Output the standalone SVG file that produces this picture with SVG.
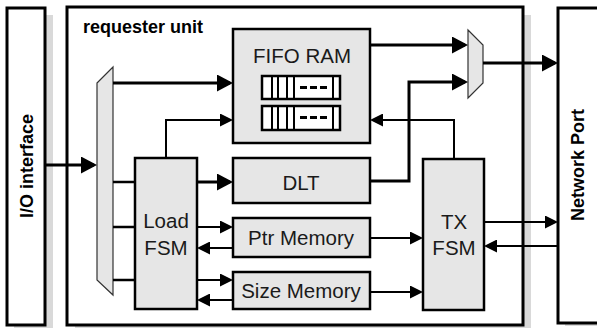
<svg xmlns="http://www.w3.org/2000/svg" width="597" height="329" viewBox="0 0 597 329">
<style>
.shadow{fill:#d9d9d9;stroke:none}
.outer{fill:#fff;stroke:#000;stroke-width:3}
.blk{fill:#e6e6e6;stroke:#000;stroke-width:2.5}
.mux{fill:#e6e6e6;stroke:#333;stroke-width:1.2}
.cell{fill:#fff;stroke:#000;stroke-width:2.5}
.tick{stroke:#000;stroke-width:2;fill:none}
.dash{stroke:#000;stroke-width:3;fill:none;stroke-dasharray:7 3}
.lbl{font-family:"Liberation Sans",Arial,sans-serif;font-size:20.5px;fill:#1a1a1a;text-anchor:middle}
.blbl{font-family:"Liberation Sans",Arial,sans-serif;font-size:18px;font-weight:bold;fill:#000}
.thick{fill:none;stroke:#000;stroke-width:3;marker-end:url(#ab)}
.thin{fill:none;stroke:#000;stroke-width:2;marker-end:url(#as)}
.plain{fill:none;stroke:#000;stroke-width:2.5}
</style>
<defs>
<marker id="ab" markerUnits="userSpaceOnUse" markerWidth="16" markerHeight="17" refX="13" refY="8.5" orient="auto"><path d="M0,0 L16,8.5 L0,17 z" fill="#000"/></marker>
<marker id="as" markerUnits="userSpaceOnUse" markerWidth="13" markerHeight="13" refX="11" refY="6.5" orient="auto"><path d="M0,0 L13,6.5 L0,13 z" fill="#000"/></marker>
</defs>

<g id="io-interface">
<rect class="shadow" x="14" y="15" width="39" height="313"/>
<rect class="outer" x="7" y="8" width="38" height="317"/>
<text class="blbl" text-anchor="middle" transform="translate(33,166) rotate(-90)">I/O interface</text>
</g>

<g id="requester-unit">
<rect class="shadow" x="75" y="15" width="456" height="313"/>
<rect class="outer" x="67" y="7" width="456" height="318"/>
<text class="blbl" x="83" y="33">requester unit</text>
</g>

<g id="network-port">
<rect class="shadow" x="565" y="15" width="40" height="311"/>
<rect class="outer" x="558" y="8" width="45" height="315"/>
<text class="blbl" text-anchor="middle" transform="translate(584,165) rotate(-90)">Network Port</text>
</g>

<g id="mux-in">
<polygon class="mux" points="97,83 113,67 113,295 97,280"/>
</g>

<g id="mux-out">
<polygon class="mux" points="468,30 483,45 483,83 468,98"/>
</g>

<g id="fifo-ram">
<rect class="blk" x="233" y="29" width="137" height="114"/>
<text class="lbl" x="302" y="63">FIFO RAM</text>
<rect class="cell" x="262" y="76" width="78" height="23"/>
<path class="tick" d="M272,76V99M278,76V99M287,76V99M294,76V99M333,76V99"/>
<path class="dash" d="M300,87.5H327"/>
<rect class="cell" x="262" y="106" width="78" height="24"/>
<path class="tick" d="M272,106V130M278,106V130M287,106V130M294,106V130M333,106V130"/>
<path class="dash" d="M300,117.5H327"/>
</g>

<g id="dlt">
<rect class="blk" x="233" y="158" width="137" height="45"/>
<text class="lbl" x="301" y="190">DLT</text>
</g>

<g id="ptr-memory">
<rect class="blk" x="233" y="218" width="137" height="39"/>
<text class="lbl" x="301" y="245">Ptr Memory</text>
</g>

<g id="size-memory">
<rect class="blk" x="233" y="272" width="137" height="37"/>
<text class="lbl" x="301" y="298">Size Memory</text>
</g>

<g id="load-fsm">
<rect class="blk" x="135" y="158" width="62" height="151"/>
<text class="lbl" x="166" y="228">Load</text>
<text class="lbl" x="166" y="255">FSM</text>
</g>

<g id="tx-fsm">
<rect class="blk" x="423" y="159" width="61" height="151"/>
<text class="lbl" x="454" y="229">TX</text>
<text class="lbl" x="454" y="255">FSM</text>
</g>

<g id="connectors">
<path class="thick" d="M46,165H94"/>
<path class="thick" d="M113,83H230"/>
<path class="thick" d="M371,45H465"/>
<path class="thick" d="M198,182H230"/>
<path class="thick" d="M371,181H409V82H465"/>
<path class="thick" d="M483,63H555"/>
<path class="thin" d="M166,158V120H231"/>
<path class="thin" d="M454,159V120H372"/>
<path class="thin" d="M198,227H231"/>
<path class="thin" d="M233,248H199"/>
<path class="thin" d="M198,280H231"/>
<path class="thin" d="M233,300H199"/>
<path class="thin" d="M371,238H421"/>
<path class="thin" d="M371,292H421"/>
<path class="thin" d="M485,222H556"/>
<path class="thin" d="M557,246H486"/>
<path class="plain" d="M113,182H135M113,227H135M113,280H135"/>
</g>
</svg>
